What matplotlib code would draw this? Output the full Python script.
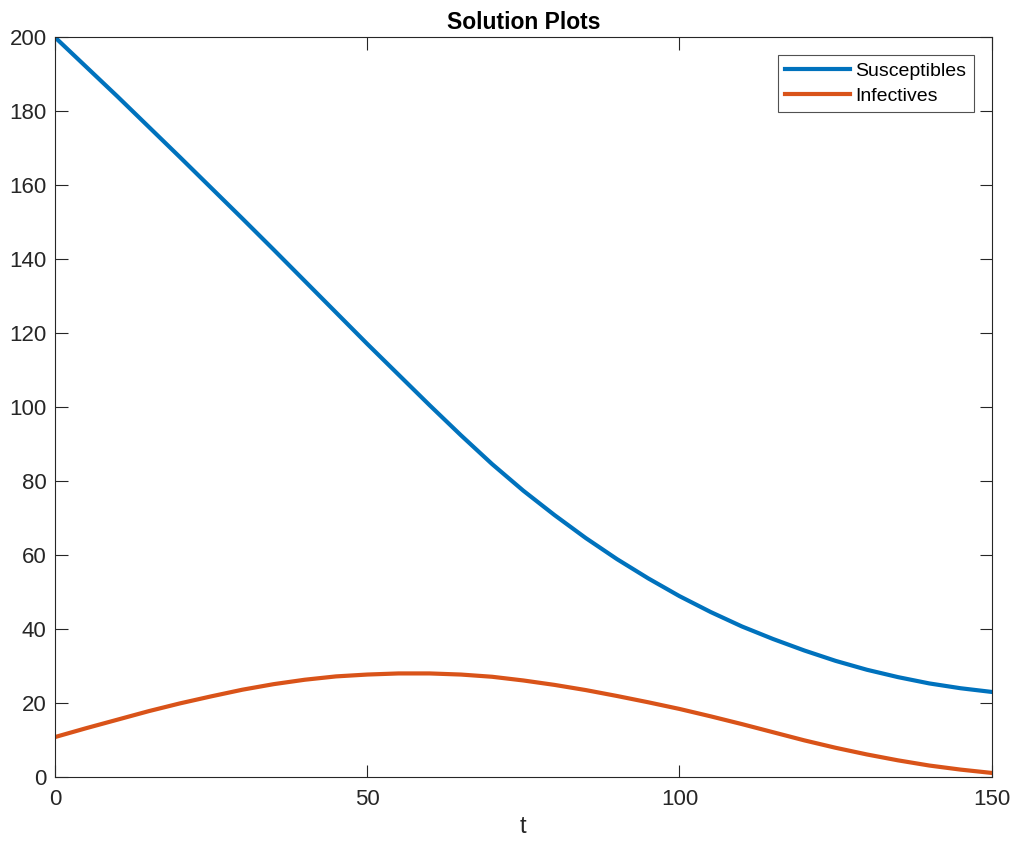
import matplotlib
matplotlib.use("Agg")
from matplotlib import pyplot as plt

# values
t = [0, 5, 10, 15, 20, 25, 30, 35, 40, 45, 50, 55, 60, 65, 70, 75,
     80, 85, 90, 95, 100, 105, 110, 115, 120, 125, 130, 135, 140, 145, 150]
susceptibles = [200.0, 192.0, 184.0, 175.8, 167.6, 159.3, 151.0, 142.6, 134.1, 125.6,
                117.1, 108.8, 100.5, 92.4, 84.6, 77.4, 70.8, 64.6, 58.9, 53.7,
                48.9, 44.6, 40.7, 37.3, 34.2, 31.4, 29.0, 27.0, 25.3, 24.0, 23.0]
infectives = [10.8, 13.2, 15.5, 17.8, 19.9, 21.8, 23.6, 25.1, 26.3, 27.2,
              27.7, 28.0, 28.0, 27.7, 27.1, 26.1, 24.9, 23.5, 21.9, 20.2,
              18.4, 16.4, 14.3, 12.1, 9.9, 7.9, 6.1, 4.5, 3.1, 2.0, 1.1]
x_ticks = [0, 50, 100, 150]
y_ticks = [0, 20, 40, 60, 80, 100, 120, 140, 160, 180, 200]

plt.rcParams['font.family'] = ['Liberation Sans', 'DejaVu Sans']
text_color = "#262626"

fig = plt.figure(figsize=(10.13, 8.42), dpi=100)
ax = fig.add_axes([0.0543, 0.0772, 0.9247, 0.8785])

ax.plot(t, susceptibles, color="#0072BD", lw=3, label="Susceptibles")
ax.plot(t, infectives, color="#D95319", lw=3, label="Infectives")

ax.set_xlim(0, 150)
ax.set_ylim(0, 200)
ax.set_xticks(x_ticks)
ax.set_yticks(y_ticks)
ax.tick_params(direction="in", length=9, width=0.8, top=True, right=True,
               labelsize=16, colors=text_color)
ax.tick_params(axis="x", pad=9)
ax.tick_params(axis="y", pad=6)
for side in ax.spines.values():
    side.set_color(text_color)
    side.set_linewidth(0.8)

ax.set_xlabel("t", fontsize=17, color=text_color, labelpad=4)
ax.set_title("Solution Plots", fontsize=16.5, fontweight="bold", pad=6)

leg = ax.legend(loc="upper right", fontsize=14, frameon=True, fancybox=False,
                edgecolor=text_color, handlelength=3.3, handletextpad=0.3,
                borderpad=0.4, labelspacing=0.35, borderaxespad=0.9)
leg.get_frame().set_linewidth(0.8)

fig.savefig("out.png", dpi=100)
